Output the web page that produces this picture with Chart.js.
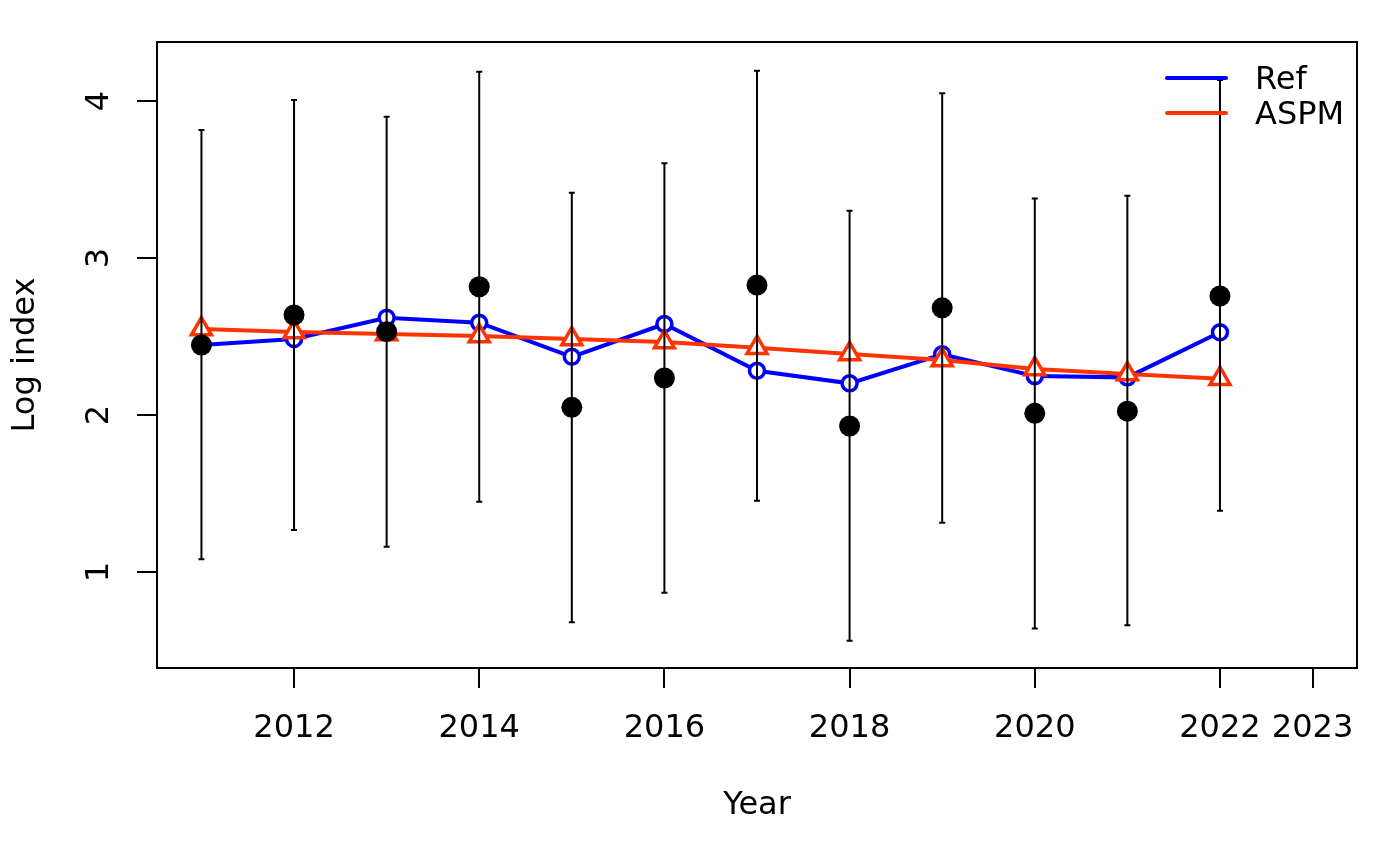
<!DOCTYPE html>
<html>
<head>
<meta charset="utf-8">
<script src="https://cdn.jsdelivr.net/npm/chart.js@4.4.1/dist/chart.umd.min.js"></script>
<style>
  html, body { margin: 0; padding: 0; background: #fff; }
  #wrap { width: 1400px; height: 865px; }
</style>
</head>
<body>
<div id="wrap"><canvas id="indexChart" width="1400" height="865"></canvas></div>
<script>
// years and series
var years = [2011, 2012, 2013, 2014, 2015, 2016, 2017, 2018, 2019, 2020, 2021, 2022];
var obsIndex = [2.446, 2.637, 2.531, 2.817, 2.049, 2.236, 2.828, 1.930, 2.683, 2.011, 2.025, 2.758];
var obsUpper = [3.815, 4.006, 3.900, 4.187, 3.416, 3.603, 4.193, 3.301, 4.049, 3.380, 3.397, 4.134];
var obsLower = [1.081, 1.268, 1.161, 1.448, 0.680, 0.868, 1.454, 0.562, 1.314, 0.641, 0.662, 1.390];
var refIndex = [2.446, 2.484, 2.620, 2.588, 2.371, 2.580, 2.282, 2.202, 2.387, 2.248, 2.240, 2.527];
var aspmIndex = [2.548, 2.529, 2.516, 2.503, 2.484, 2.465, 2.429, 2.389, 2.350, 2.293, 2.261, 2.232];
var xTicks = [2012, 2014, 2016, 2018, 2020, 2022, 2023];
var yTicks = [1, 2, 3, 4];
var legendNames = ['Ref', 'ASPM'];

var FONT = '"DejaVu Sans", sans-serif';
var FSIZE = 32;

function toPoints(vals) {
  var out = [];
  for (var i = 0; i < years.length; i++) {
    out.push({ x: years[i], y: vals[i] });
  }
  return out;
}

// error bars, frame, y labels, titles and legend
var extras = {
  id: 'extras',
  beforeDraw: function(chart) {
    var ctx = chart.ctx;
    ctx.save();
    ctx.fillStyle = '#fff';
    ctx.fillRect(0, 0, chart.width, chart.height);
    ctx.restore();
  },
  afterDatasetsDraw: function(chart) {
    var ctx = chart.ctx;
    var xs = chart.scales.x, ys = chart.scales.y;
    ctx.save();
    ctx.strokeStyle = '#000';
    ctx.lineWidth = 2;
    for (var i = 0; i < years.length; i++) {
      var px = xs.getPixelForValue(years[i]);
      var top = ys.getPixelForValue(obsUpper[i]);
      var bot = ys.getPixelForValue(obsLower[i]);
      ctx.beginPath();
      ctx.moveTo(px, top); ctx.lineTo(px, bot);
      ctx.moveTo(px - 3, top); ctx.lineTo(px + 3, top);
      ctx.moveTo(px - 3, bot); ctx.lineTo(px + 3, bot);
      ctx.stroke();
    }
    ctx.restore();
  },
  afterDraw: function(chart) {
    var ctx = chart.ctx;
    var a = chart.chartArea;
    var ys = chart.scales.y;
    ctx.save();
    // box round the plot
    ctx.strokeStyle = '#000';
    ctx.lineWidth = 2;
    ctx.strokeRect(a.left, a.top, a.right - a.left, a.bottom - a.top);

    ctx.fillStyle = '#000';
    ctx.font = FSIZE + 'px ' + FONT;
    ctx.textAlign = 'center';
    ctx.textBaseline = 'middle';

    // y tick labels, turned like R does
    for (var i = 0; i < yTicks.length; i++) {
      var py = ys.getPixelForValue(yTicks[i]);
      ctx.save();
      ctx.translate(100, py);
      ctx.rotate(-Math.PI / 2);
      ctx.fillText(String(yTicks[i]), 0, 0);
      ctx.restore();
    }

    // axis titles
    ctx.fillText('Year', (a.left + a.right) / 2, 806);
    ctx.save();
    ctx.translate(26, (a.top + a.bottom) / 2);
    ctx.rotate(-Math.PI / 2);
    ctx.fillText('Log index', 0, 0);
    ctx.restore();

    // legend
    var cols = ['#0000FF', '#FF3300'];
    var rows = [78, 113];
    ctx.lineWidth = 4;
    ctx.lineCap = 'round';
    ctx.textAlign = 'left';
    for (var k = 0; k < legendNames.length; k++) {
      ctx.strokeStyle = cols[k];
      ctx.beginPath();
      ctx.moveTo(1167, rows[k]);
      ctx.lineTo(1226, rows[k]);
      ctx.stroke();
      ctx.fillText(legendNames[k], 1255, rows[k] + 3);
    }
    ctx.restore();
  }
};

function init() {
  var ctx = document.getElementById('indexChart').getContext('2d');
  var chart = new Chart(ctx, {
    type: 'scatter',
    data: {
      datasets: [
        {
          label: 'Obs',
          data: toPoints(obsIndex),
          showLine: false,
          pointStyle: 'circle',
          pointRadius: 10.5,
          pointBackgroundColor: '#000',
          pointBorderWidth: 0
        },
        {
          label: 'ASPM',
          data: toPoints(aspmIndex),
          showLine: true,
          borderColor: '#FF3300',
          borderWidth: 4,
          pointStyle: 'triangle',
          pointRadius: 11.5,
          pointBorderWidth: 3.5,
          pointBorderColor: '#FF3300',
          pointBackgroundColor: '#fff'
        },
        {
          label: 'Ref',
          data: toPoints(refIndex),
          showLine: true,
          borderColor: '#0000FF',
          borderWidth: 4,
          pointStyle: 'circle',
          pointRadius: 7.5,
          pointBorderWidth: 3.5,
          pointBorderColor: '#0000FF',
          pointBackgroundColor: '#fff'
        }
      ]
    },
    options: {
      responsive: false,
      animation: false,
      layout: { padding: { left: 0, top: 42, right: 43, bottom: 0 } },
      plugins: {
        legend: { display: false },
        tooltip: { enabled: false }
      },
      scales: {
        x: {
          type: 'linear',
          min: 2010.52,
          max: 2023.48,
          afterBuildTicks: function(scale) {
            scale.ticks = xTicks.map(function(v) { return { value: v }; });
          },
          afterFit: function(scale) { scale.height = 197; },
          grid: {
            drawOnChartArea: false,
            drawTicks: true,
            tickLength: 20,
            color: '#000',
            lineWidth: 2
          },
          border: { display: true, color: '#000', width: 2 },
          ticks: {
            autoSkip: false,
            maxRotation: 0,
            padding: 21,
            color: '#000',
            font: { family: FONT, size: FSIZE },
            callback: function(v) { return String(v); }
          }
        },
        y: {
          type: 'linear',
          min: 0.389,
          max: 4.376,
          afterBuildTicks: function(scale) {
            scale.ticks = yTicks.map(function(v) { return { value: v }; });
          },
          afterFit: function(scale) { scale.width = 157; },
          grid: {
            drawOnChartArea: false,
            drawTicks: true,
            tickLength: 20,
            color: '#000',
            lineWidth: 2
          },
          border: { display: true, color: '#000', width: 2 },
          ticks: { display: false }
        }
      }
    },
    plugins: [extras]
  });
}

init();
</script>
</body>
</html>
